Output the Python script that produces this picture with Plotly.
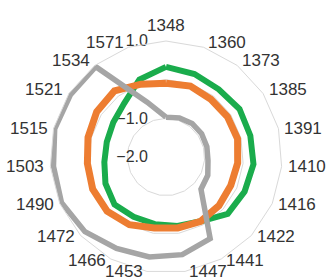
import math
import plotly.graph_objects as go

categories = ["1348", "1360", "1373", "1385", "1391", "1410", "1416", "1422", "1441", "1447",
              "1453", "1466", "1472", "1490", "1503", "1515", "1521", "1534", "1571"]

green_vals = [0.33, 0.27, 0.22, 0.27, 0.25, 0.27, 0.22, 0.17, -0.11, -0.19,
              -0.24, -0.24, -0.19, -0.29, -0.40, -0.42, -0.37, -0.24, 0.12]
orange_vals = [-0.09, -0.06, -0.11, -0.10, -0.09, -0.14, -0.17, -0.14, -0.11, -0.14,
               -0.14, -0.01, 0.07, 0.07, 0.04, 0.08, 0.14, 0.17, -0.01]
gray_vals = [-0.97, -0.93, -0.90, -0.90, -0.91, -0.91, -0.82, -0.77, 0.40, 0.56,
             0.62, 0.69, 0.85, 0.95, 0.92, 0.97, 0.95, 0.96, -0.50]

radial_ticks = [-2, -1, 0, 1]
radial_ticktext = ["\u22122.0", "\u22121.0", "", "1.0"]

R_MIN, R_MAX = -2, 1

series = [
    ("green", green_vals, "#1aac4c", 6),
    ("orange", orange_vals, "#ed7d31", 7),
    ("gray", gray_vals, "#a5a5a5", 5.5),
]

FIG_W, FIG_H = 328, 280
M_L, M_R, M_T, M_B = 50, 46, 41, 7
LABEL_GAP = 1.017                    # category labels sit just outside the outer ring
TEXT_COLOR = "#333333"
FONT = "Liberation Sans, Arial, sans-serif"

fig = go.Figure()
for name, vals, color, width in series:
    fig.add_trace(go.Scatterpolar(
        r=vals + vals[:1],
        theta=categories + categories[:1],
        mode="lines",
        name=name,
        line=dict(color=color, width=width),
        showlegend=False,
    ))

# Category labels, anchored like the spreadsheet radar chart
n = len(categories)
annotations = []
for i, cat in enumerate(categories):
    a = 2 * math.pi * i / n
    s, c = math.sin(a), math.cos(a)
    x = 0.5 + 0.5 * LABEL_GAP * s
    y = 0.5 + 0.5 * LABEL_GAP * c
    yshift = 3 if c > 0.4 else (2 if c < -0.9 else 0)
    if abs(s) < 0.05:
        xanchor, yanchor, xshift, yshift = "center", "bottom", 0, 2
    elif s > 0:
        xanchor, yanchor, xshift = "left", "middle", 2
    else:
        xanchor, yanchor, xshift = "right", "middle", -2
    annotations.append(dict(
        x=x, y=y, xref="paper", yref="paper", text=cat, showarrow=False,
        xanchor=xanchor, yanchor=yanchor, xshift=xshift, yshift=yshift,
        font=dict(size=17, color=TEXT_COLOR, family=FONT),
    ))

fig.update_layout(
    width=FIG_W, height=FIG_H,
    margin=dict(l=M_L, r=M_R, t=M_T, b=M_B),
    paper_bgcolor="white",
    plot_bgcolor="white",
    font=dict(family=FONT, color=TEXT_COLOR),
    annotations=annotations,
    polar=dict(
        bgcolor="white",
        gridshape="linear",
        angularaxis=dict(
            type="category",
            categoryarray=categories,
            rotation=90,
            direction="clockwise",
            showgrid=False,
            showline=True,
            linecolor="#d9d9d9",
            linewidth=1,
            ticks="",
            showticklabels=False,
        ),
        radialaxis=dict(
            range=[R_MIN, R_MAX],
            tickvals=radial_ticks,
            ticktext=radial_ticktext,
            angle=90,
            tickangle=90,
            side="counterclockwise",
            showline=False,
            gridcolor="#d9d9d9",
            gridwidth=1,
            ticks="outside",
            ticklen=12,
            tickcolor="rgba(0,0,0,0)",
            tickfont=dict(size=16, color=TEXT_COLOR),
            layer="below traces",
        ),
    ),
)

# remove the browser's default page margin so the figure fills the window exactly
fig.write_html("out.html", config={"displayModeBar": False},
               post_script="document.body.style.margin='0';")
